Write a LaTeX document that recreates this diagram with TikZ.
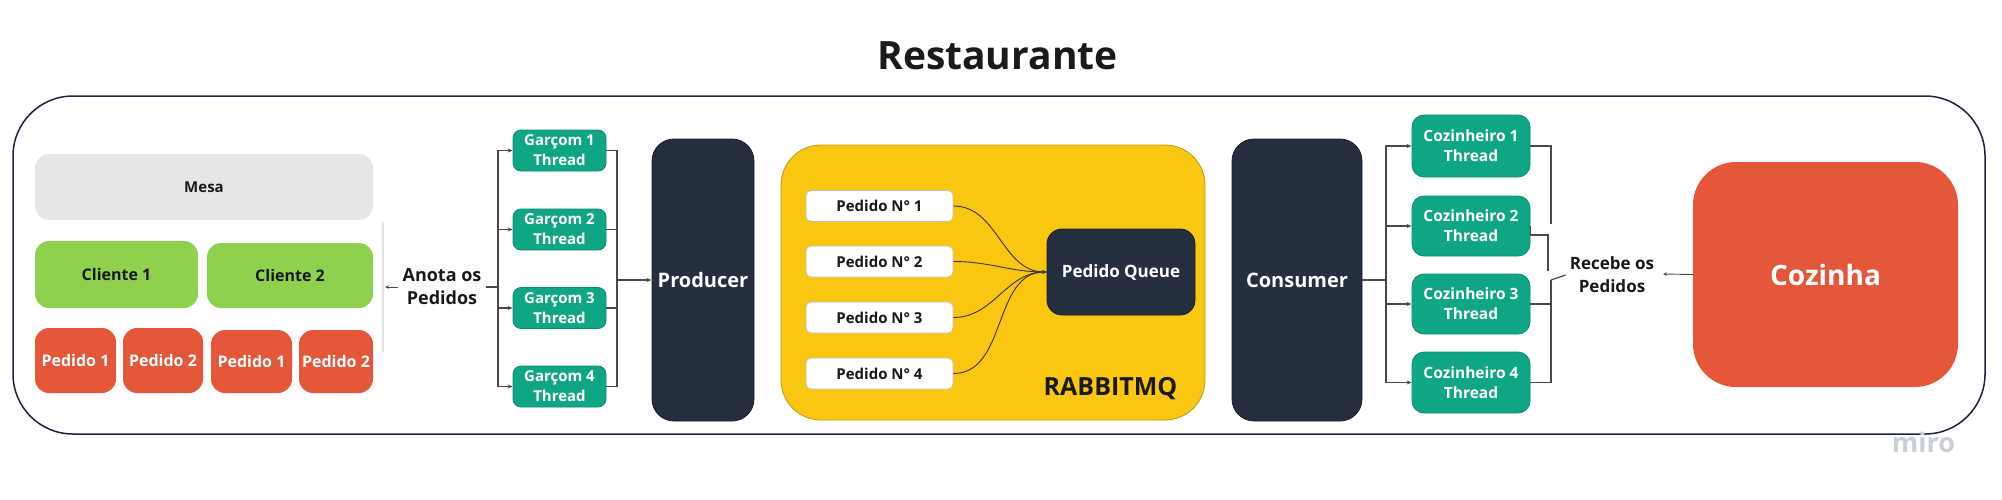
\documentclass[tikz,border=0pt]{standalone}
\usepackage{fontspec}
\setmainfont{Open Sans}
\usetikzlibrary{arrows.meta}
\definecolor{teal1}{HTML}{10A685}
\definecolor{tealB}{HTML}{0B8D71}
\definecolor{green1}{HTML}{8FD14F}
\definecolor{red1}{HTML}{E4573B}
\definecolor{navy1}{HTML}{252F3F}
\definecolor{navyB}{HTML}{161D29}
\definecolor{yellow1}{HTML}{F9C712}
\definecolor{yellowB}{HTML}{B89A1A}
\definecolor{gray1}{HTML}{E6E6E6}
\definecolor{gray2}{HTML}{E3E3E3}
\definecolor{frame1}{HTML}{1B2540}
\definecolor{wire}{HTML}{4A4A4A}
\definecolor{curve1}{HTML}{3A3520}
\definecolor{ink}{HTML}{1A1A1A}
\definecolor{miro1}{HTML}{CBCDD9}
\newcommand{\fsz}[2]{\fontsize{#1}{#2}\selectfont\bfseries}
\begin{document}
\begin{tikzpicture}[x=1pt,y=-1pt,
  blk/.style={rectangle, inner sep=0pt, align=center, text=white},
  mesabox/.style={blk, fill=gray1, text=ink, rounded corners=14pt, font=\fsz{15}{20}},
  clibox/.style={blk, fill=green1, text=ink, rounded corners=14pt, font=\fsz{16}{20}},
  pedbox/.style={blk, fill=red1, rounded corners=14pt, font=\fsz{16}{20}},
  thrbox/.style={blk, fill=teal1, draw=tealB, line width=0.8pt, rounded corners=8pt},
  darkbox/.style={blk, fill=navy1, draw=navyB, line width=0.8pt, rounded corners=22pt},
  pnbox/.style={blk, fill=white, draw=black!25, line width=0.8pt, rounded corners=5pt, text=ink,
     font=\fsz{15}{20}, minimum width=147pt, minimum height=31pt},
  lbl/.style={align=center, text=ink, inner xsep=4pt, inner ysep=0pt},
  wireline/.style={draw=wire, line width=1.2pt},
  arr/.style={wireline, -{Stealth[length=5pt,width=4pt]}},
  crv/.style={draw=curve1, line width=0.9pt, -{Stealth[length=4pt,width=3.5pt]}}
]
\useasboundingbox (0,0) rectangle (2002,499);
\fill[white] (0,0) rectangle (2002,499);

% title and frame
\node[anchor=base, font=\fsz{39}{44}, text=ink, inner sep=0pt] (title) at (997.5,69) {Restaurante};
\node[draw=frame1, line width=1.5pt, rounded corners=60pt, minimum width=1972pt, minimum height=338pt, inner sep=0pt] (frame) at (999,265) {};

% mesa
\node[mesabox, minimum width=338pt, minimum height=66pt] (mesa) at (204,187) {Mesa};
\node[clibox, minimum width=163pt, minimum height=67pt] (cli1) at (116.5,274.5) {Cliente 1};
\node[clibox, minimum width=166pt, minimum height=65pt] (cli2) at (290,275.5) {Cliente 2};
\node[pedbox, minimum width=81pt, minimum height=65pt] (pa1) at (75.5,360.5) {Pedido 1};
\node[pedbox, minimum width=80pt, minimum height=65pt] (pa2) at (163,360.5) {Pedido 2};
\node[pedbox, minimum width=81pt, minimum height=63pt] (pb1) at (251.5,361.5) {Pedido 1};
\node[pedbox, minimum width=74pt, minimum height=63pt] (pb2) at (336,361.5) {Pedido 2};
\draw[gray2, line width=1.5pt] (383,222) -- (383,352);

% anota
\node[lbl, font=\fsz{18}{23}] (anota) at (442,287) {Anota os\\Pedidos};
\coordinate (ga) at (385,287);
\draw[arr, line width=0.9pt, -{Stealth[length=4pt,width=3.5pt]}] (anota.west) -- (ga);

% garcom threads
\node[thrbox, minimum width=93pt, minimum height=41pt, font=\fsz{15}{20}] (g1) at (559.5,150.5) {Garçom 1\\Thread};
\node[thrbox, minimum width=93pt, minimum height=41pt, font=\fsz{15}{20}] (g2) at (559.5,229.5) {Garçom 2\\Thread};
\node[thrbox, minimum width=93pt, minimum height=41pt, font=\fsz{15}{20}] (g3) at (559.5,308) {Garçom 3\\Thread};
\node[thrbox, minimum width=93pt, minimum height=41pt, font=\fsz{15}{20}] (g4) at (559.5,386.5) {Garçom 4\\Thread};
\coordinate (lb) at (498,287);
\draw[wireline, line width=1.8pt] (anota.east) -- (lb);
\foreach \g in {g1,g2,g3,g4} {\draw[arr] (lb) |- (\g.west);}

% producer
\node[darkbox, minimum width=102pt, minimum height=282pt, font=\fsz{20}{24}] (prod) at (703,280) {Producer};
\coordinate (rb) at (617,280);
\foreach \g in {g1,g2,g3,g4} {\draw[wireline] (\g.east) -| (rb);}
\draw[arr] (rb) -- (prod.west);

% rabbitmq
\node[blk, fill=yellow1, draw=yellowB, line width=0.8pt, rounded corners=40pt, minimum width=424pt, minimum height=275pt] (rabbit) at (993,282.5) {};
\node[pnbox] (n1) at (879.5,206) {Pedido N° 1};
\node[pnbox] (n2) at (879.5,261.5) {Pedido N° 2};
\node[pnbox] (n3) at (879.5,317.5) {Pedido N° 3};
\node[pnbox] (n4) at (879.5,373.5) {Pedido N° 4};
\node[darkbox, rounded corners=15pt, minimum width=148pt, minimum height=86pt, font=\fsz{17}{20}] (queue) at (1121,272) {Pedido Queue};
\foreach \n in {n1,n2,n3,n4} {\draw[crv] (\n.east) to[out=0,in=180] (queue.west);}
\node[anchor=base, font=\fsz{25}{28}, text=ink, inner sep=0pt] (rmq) at (1110.5,395) {RABBITMQ};

% consumer
\node[darkbox, minimum width=130pt, minimum height=282pt, font=\fsz{20}{24}] (cons) at (1297,280) {Consumer};
\node[thrbox, minimum width=118pt, minimum height=62pt, rounded corners=12pt, font=\fsz{15.5}{20}] (c1) at (1471,146) {Cozinheiro 1\\Thread};
\node[thrbox, minimum width=118pt, minimum height=60pt, rounded corners=12pt, font=\fsz{15.5}{20}] (c2) at (1471,226) {Cozinheiro 2\\Thread};
\node[thrbox, minimum width=118pt, minimum height=60pt, rounded corners=12pt, font=\fsz{15.5}{20}] (c3) at (1471,304) {Cozinheiro 3\\Thread};
\node[thrbox, minimum width=118pt, minimum height=61pt, rounded corners=12pt, font=\fsz{15.5}{20}] (c4) at (1471,382.5) {Cozinheiro 4\\Thread};
\coordinate (cb) at (1386,280);
\draw[wireline] (cons.east) -- (cb);
\foreach \c in {c1,c2,c3,c4} {\draw[arr] (cb) |- (\c.west);}

% right side
\node[lbl, font=\fsz{17}{23}] (recebe) at (1612,275) {Recebe os\\Pedidos};
\coordinate (kb) at (1551,280);
\coordinate (k1) at (1551,224);
\coordinate (k2) at (1548,271);
\draw[wireline] (c1.east) -| (k1);
\draw[wireline] (c2.east) -- ++(0,9) -| (k2);
\draw[wireline] (c3.east) -| (kb);
\draw[wireline] (c4.east) -| (kb);
\draw[wireline] (kb) -- (recebe.west);

% cozinha
\node[blk, fill=red1, rounded corners=43pt, minimum width=265pt, minimum height=225pt, font=\fsz{28}{32}] (coz) at (1825.5,274.5) {Cozinha};
\coordinate (rt) at (1663,274);
\draw[arr, line width=0.9pt, -{Stealth[length=4pt,width=3.5pt]}] (coz.west) -- (rt);

% watermark
\node[anchor=base, font=\fsz{27}{30}, text=miro1, inner sep=0pt] (miro) at (1923.5,452) {miro};
\end{tikzpicture}
\end{document}
